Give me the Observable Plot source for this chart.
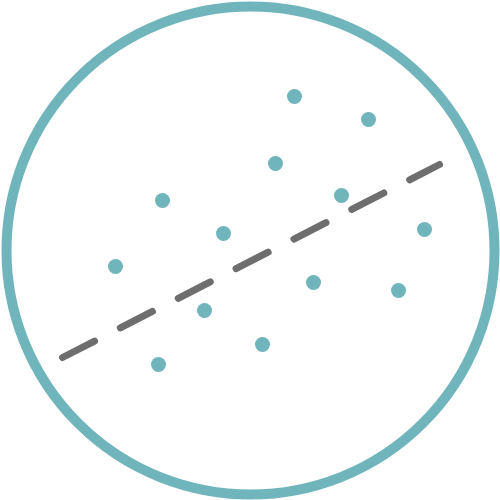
<!DOCTYPE html>
<html>
<head>
<meta charset="utf-8">
<script src="https://cdn.jsdelivr.net/npm/d3@7"></script>
<script src="https://cdn.jsdelivr.net/npm/@observablehq/plot@0.6"></script>
<style>
  body { margin: 0; background: #fff; }
</style>
</head>
<body>
<div id="chart"></div>
<script>
// scatter points (y pointing up)
const xs = [115, 162, 158, 204, 223, 262, 275, 294, 313, 341, 368, 398, 424];
const ys = [234, 300, 136, 190, 267, 156, 337, 404, 218, 305, 381, 210, 271];

// trend line end points
const trendX = [62, 439];
const trendY = [143, 336];

// outer ring centre
const ringX = [250];
const ringY = [250];

const points = xs.map((x, i) => ({x, y: ys[i]}));
const trend = trendX.map((x, i) => ({x, y: trendY[i]}));
const ring = ringX.map((x, i) => ({x, y: ringY[i]}));

const teal = "#6fb5bb";

let chart = Plot.plot({
  width: 500,
  height: 500,
  margin: 0,
  x: {domain: [0, 500], axis: null},
  y: {domain: [0, 500], axis: null},
  style: {background: "#fff"},
  marks: [
    Plot.dot(ring, {x: "x", y: "y", r: 244, fill: "none", stroke: teal, strokeWidth: 10}),
    Plot.line(trend, {
      x: "x", y: "y",
      stroke: "#6e6e6e",
      strokeWidth: 7,
      strokeLinecap: "round",
      strokeDasharray: "36 29"
    }),
    Plot.dot(points, {x: "x", y: "y", r: 7.5, fill: teal, stroke: "none"})
  ]
});

d3.select("#chart").append(() => chart);
</script>
</body>
</html>
